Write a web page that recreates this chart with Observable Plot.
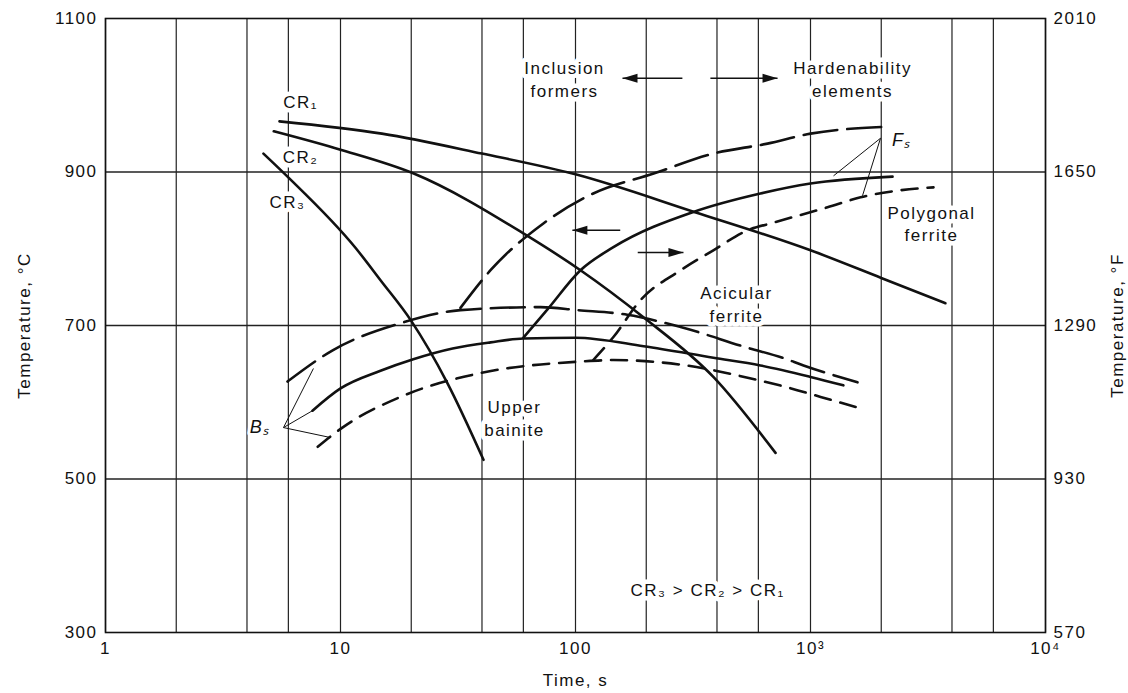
<!DOCTYPE html>
<html><head><meta charset="utf-8">
<script src="https://cdn.jsdelivr.net/npm/d3@7"></script>
<script src="https://cdn.jsdelivr.net/npm/@observablehq/plot@0.6"></script>
<style>
body{margin:0;background:#fff;}
#chart svg{font-family:"Liberation Sans",Arial,"DejaVu Sans",sans-serif;}
#chart svg text{letter-spacing:1.5px;}
</style></head><body><div id="chart"></div>
<script>
// ---- data: [time (s), temperature (°C)] ----
const cr1 = [[5.5,966],[15,950],[40,924],[100,897],[320,848],[1000,798],[2000,762],[3750,729]];
const cr2 = [[5.2,953],[10,929],[20.5,898],[60,820],[105,772],[194,711],[386,633],[710,534]];
const cr3 = [[4.7,924],[5.95,894],[11.6,801],[14.8,759],[19.9,707],[28.5,625],[40.6,525]];
const bsLong = [[5.95,627],[9.3,668],[18,703],[32.4,720],[71,724],[102,720],[166,714],[280,698],[540,671],[760,658],[934,648],[1585,626]];
const bsSolid = [[7.6,589],[10,618],[14.8,641],[20.4,656],[30,670],[43.5,678],[60,683],[100,684],[195,673],[386,658],[612,648],[1000,633],[1380,622]];
const bsShort = [[8,542],[10.3,568],[18,607],[39.4,638],[105,653],[145,655],[280,649],[540,632],[806,619],[1104,607],[1633,592]];
const fsLong = [[32.4,723],[43.5,772],[73,833],[119,872],[215,898],[386,924],[656,937],[1000,950],[2128,959]];
const fsSolid = [[60,684],[76,721],[105,772],[145,802],[318,848],[612,872],[1000,885],[2234,894]];
const fsShort = [[119,655],[145,685],[189,733],[280,772],[386,798],[540,824],[696,834],[1181,854],[1633,867],[2255,875],[3337,880]];

// leader lines [fromTime, fromTemp, toTime, toTemp]
const bsLeaders = [[5.72,567,7.67,644],[5.72,567,7.6,589],[5.72,567,9.07,554]];
const fsLeaders = [[1986,944,1253,895],[1986,944,1664,869]];

// arrows [fromTime, toTime, temp]
const arrowsLeft = [[285,158.5,1022],[155,97,824]];
const arrowsRight = [[375,724,1022],[184,288,795]];

// text labels
const labelText = ["CR\u2081","CR\u2082","CR\u2083","Inclusion\nformers","Hardenability\nelements","Polygonal\nferrite","Acicular\nferrite","Upper\nbainite","CR\u2083 > CR\u2082 > CR\u2081"];
const labelTime = [6.76,6.76,5.95,89.8,1510,3273,484,55,365];
const labelTemp = [993,921,863,1022,1022,834,729,581,357];
const italicText = ["B\u209B","F\u209B"];
const italicTime = [4.55,2450];
const italicTemp = [567,941];

// axes
const xTicks = [1,10,100,1000,10000];
const xTickLabels = ["1","10","100","10\u00B3","10\u2074"];
const gridTimes = [1,2,4,6,10,20,40,60,100,200,400,600,1000,2000,4000,6000,10000];
const yTicks = [300,500,700,900,1100];
const fTickLabels = ["570","930","1290","1650","2010"];
const gridTemps = [500,700,900];

// ---- build ----
const series = [
  {name:"CR1", style:"solid", pts:cr1},
  {name:"CR2", style:"solid", pts:cr2},
  {name:"CR3", style:"solid", pts:cr3},
  {name:"BsLong", style:"long", pts:bsLong},
  {name:"BsSolid", style:"solid", pts:bsSolid},
  {name:"BsShort", style:"short", pts:bsShort},
  {name:"FsLong", style:"long", pts:fsLong},
  {name:"FsSolid", style:"solid", pts:fsSolid},
  {name:"FsShort", style:"short", pts:fsShort}
];
const rows = series.flatMap(s => s.pts.map(([t,T]) => ({name:s.name, style:s.style, t, T})));
const leaders = [...bsLeaders, ...fsLeaders].map(([a,b,c,d]) => ({x1:a,y1:b,x2:c,y2:d}));
const arrowRows = [...arrowsLeft.map(([a,b,T]) => ({x1:a,x2:b,T,dir:"L"})), ...arrowsRight.map(([a,b,T]) => ({x1:a,x2:b,T,dir:"R"}))];
const labels = labelText.map((s,i) => ({s, t:labelTime[i], T:labelTemp[i]}));
const italics = italicText.map((s,i) => ({s, t:italicTime[i], T:italicTemp[i]}));

const headR = {draw(ctx){ ctx.moveTo(0,0); ctx.lineTo(-15,-4.5); ctx.lineTo(-15,4.5); ctx.closePath(); }};
const headL = {draw(ctx){ ctx.moveTo(0,0); ctx.lineTo(15,-4.5); ctx.lineTo(15,4.5); ctx.closePath(); }};

const curveOpts = {x:"t", y:"T", z:"name", curve:"monotone-x", stroke:"#111", strokeWidth:2.6};

const chart = Plot.plot({
  width:1128, height:693,
  marginLeft:105, marginRight:83, marginTop:18, marginBottom:61,
  x:{type:"log", domain:[1,10000]},
  y:{domain:[300,1100]},
  style:{fontFamily:'"Liberation Sans",Arial,sans-serif', fontSize:"17px", color:"#111", background:"#fff"},
  marks:[
    Plot.ruleX(gridTimes, {y1:300, y2:1100, stroke:"#222", strokeWidth:1.2}),
    Plot.ruleY(gridTemps, {stroke:"#222", strokeWidth:1.3}),
    Plot.frame({stroke:"#111", strokeWidth:1.6}),
    Plot.text(labels, {x:"t", y:"T", text:"s", fontSize:17, lineHeight:1.35, fill:"#111", stroke:"white", strokeWidth:9}),
    Plot.text(italics, {x:"t", y:"T", text:"s", fontSize:18, fontStyle:"italic", fill:"#111", stroke:"white", strokeWidth:6}),
    Plot.link(leaders, {x1:"x1", y1:"y1", x2:"x2", y2:"y2", stroke:"#111", strokeWidth:1}),
    Plot.line(rows.filter(d => d.style==="solid"), curveOpts),
    Plot.line(rows.filter(d => d.style==="long"), {...curveOpts, strokeDasharray:"34,10"}),
    Plot.line(rows.filter(d => d.style==="short"), {...curveOpts, strokeDasharray:"16,10"}),
    Plot.link(arrowRows, {x1:"x1", x2:"x2", y1:"T", y2:"T", stroke:"#111", strokeWidth:1.5}),
    Plot.dot(arrowRows.filter(d => d.dir==="R"), {x:"x2", y:"T", symbol:headR, r:4, fill:"#111", stroke:"none"}),
    Plot.dot(arrowRows.filter(d => d.dir==="L"), {x:"x2", y:"T", symbol:headL, r:4, fill:"#111", stroke:"none"}),
    Plot.axisX({ticks:xTicks, tickFormat:d => xTickLabels[xTicks.indexOf(d)], tickSize:0, tickPadding:9, fontSize:17,
      label:"Time, s", labelAnchor:"center", labelArrow:"none", labelOffset:53}),
    Plot.axisY({anchor:"left", ticks:yTicks, tickFormat:d => String(d), tickSize:0, tickPadding:8, fontSize:17,
      label:"Temperature, \u00B0C", labelAnchor:"center", labelArrow:"none", labelOffset:88}),
    Plot.axisY({anchor:"right", ticks:yTicks, tickFormat:d => fTickLabels[yTicks.indexOf(d)], tickSize:0, tickPadding:8, fontSize:17,
      label:"Temperature, \u00B0F", labelAnchor:"center", labelArrow:"none", labelOffset:77})
  ]
});
document.getElementById("chart").appendChild(chart);
</script></body></html>
